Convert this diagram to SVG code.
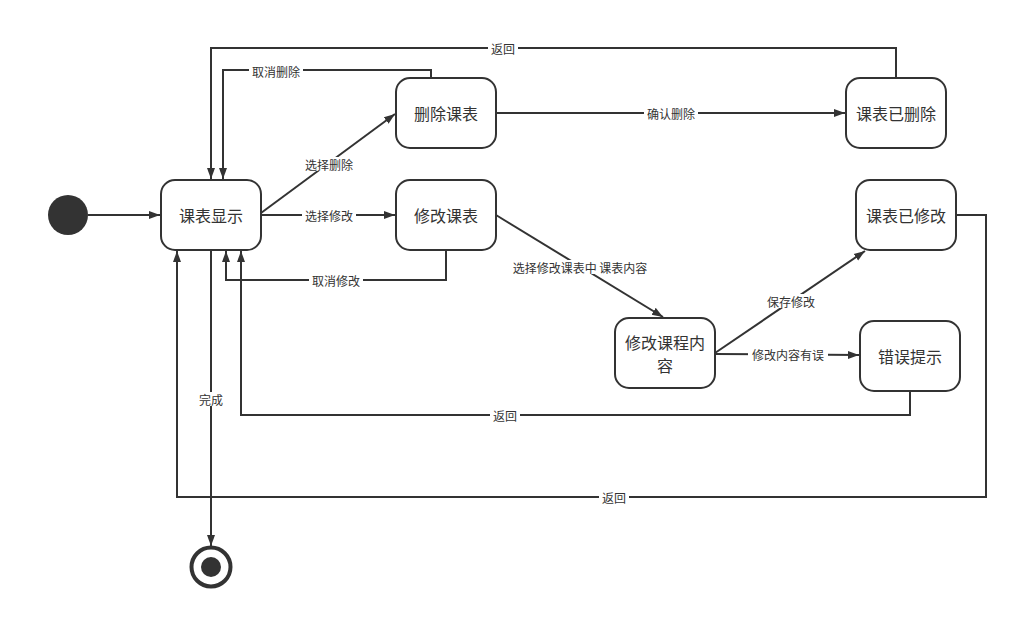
<svg xmlns="http://www.w3.org/2000/svg" width="1018" height="619" viewBox="0 0 1018 619">
<defs>
<marker id="arr" viewBox="0 0 11 10" refX="11" refY="5" markerWidth="11" markerHeight="10" markerUnits="userSpaceOnUse" orient="auto">
<path d="M0,1 L11,5 L0,9 Z" fill="#333"/>
</marker>
<style>
.n rect{fill:#fff;stroke:#333;stroke-width:2}
.n text{font-family:"Noto Sans CJK SC","Noto Sans",sans-serif;font-size:16px;fill:#333;text-anchor:middle;dominant-baseline:central}
.e path{fill:none;stroke:#333;stroke-width:2;marker-end:url(#arr)}
.lb rect{fill:#fff}
.lb text{font-family:"Noto Sans CJK SC","Noto Sans",sans-serif;font-size:12px;fill:#333;text-anchor:middle;dominant-baseline:central}
</style>
</defs>
<rect width="1018" height="619" fill="#fff"/>
<g id="edges" class="e">
<path d="M88,215 L160,215"/>
<path d="M896,78 L896,48 L211,48 L211,179"/>
<path d="M431,78 L431,70 L223,70 L223,179"/>
<path d="M261,213 L395,114"/>
<path d="M261,215 L395,215"/>
<path d="M496,113 L845,113"/>
<path d="M496,215 L663,317"/>
<path d="M715,353 L865,251"/>
<path d="M715,354 L859,355"/>
<path d="M446,250 L446,280 L226,280 L226,251"/>
<path d="M910,391 L910,415 L241,415 L241,251"/>
<path d="M956,215 L986,215 L986,497 L177,497 L177,251"/>
<path d="M211,250 L211,546"/>
</g>
<g id="labels" class="lb">
<rect x="488" y="41" width="30" height="14"/><text x="503" y="48">返回</text>
<rect x="249" y="63" width="54" height="14"/><text x="276" y="71">取消删除</text>
<rect x="302" y="157" width="54" height="14"/><text x="329" y="164">选择删除</text>
<rect x="302" y="208" width="54" height="14"/><text x="329" y="215">选择修改</text>
<rect x="644" y="106" width="54" height="14"/><text x="671" y="113">确认删除</text>
<rect x="505" y="260" width="150" height="14"/><text x="580" y="267">选择修改课表中 课表内容</text>
<rect x="764" y="294" width="54" height="14"/><text x="791" y="301">保存修改</text>
<rect x="748" y="347" width="80" height="14"/><text x="788" y="354">修改内容有误</text>
<rect x="309" y="273" width="54" height="14"/><text x="336" y="280">取消修改</text>
<rect x="490" y="408" width="30" height="14"/><text x="505" y="415">返回</text>
<rect x="599" y="490" width="30" height="14"/><text x="614" y="497">返回</text>
<rect x="196" y="392" width="30" height="14"/><text x="211" y="399">完成</text>
</g>
<g id="start"><circle cx="68" cy="215" r="20" fill="#333"/></g>
<g id="end"><circle cx="211" cy="567" r="19.5" fill="#fff" stroke="#333" stroke-width="4"/><circle cx="211" cy="567" r="10" fill="#333"/></g>
<g id="n1" class="n"><rect x="161" y="180" width="100" height="70" rx="14"/><text x="211" y="215">课表显示</text></g>
<g id="n2" class="n"><rect x="396" y="78" width="100" height="70" rx="14"/><text x="446" y="113">删除课表</text></g>
<g id="n3" class="n"><rect x="396" y="180" width="100" height="70" rx="14"/><text x="446" y="215">修改课表</text></g>
<g id="n4" class="n"><rect x="846" y="78" width="100" height="70" rx="14"/><text x="896" y="113">课表已删除</text></g>
<g id="n5" class="n"><rect x="856" y="180" width="100" height="70" rx="14"/><text x="906" y="215">课表已修改</text></g>
<g id="n6" class="n"><rect x="615" y="318" width="100" height="70" rx="14"/><text x="665" y="342">修改课程内</text><text x="665" y="365">容</text></g>
<g id="n7" class="n"><rect x="860" y="321" width="100" height="70" rx="14"/><text x="910" y="356">错误提示</text></g>
</svg>
